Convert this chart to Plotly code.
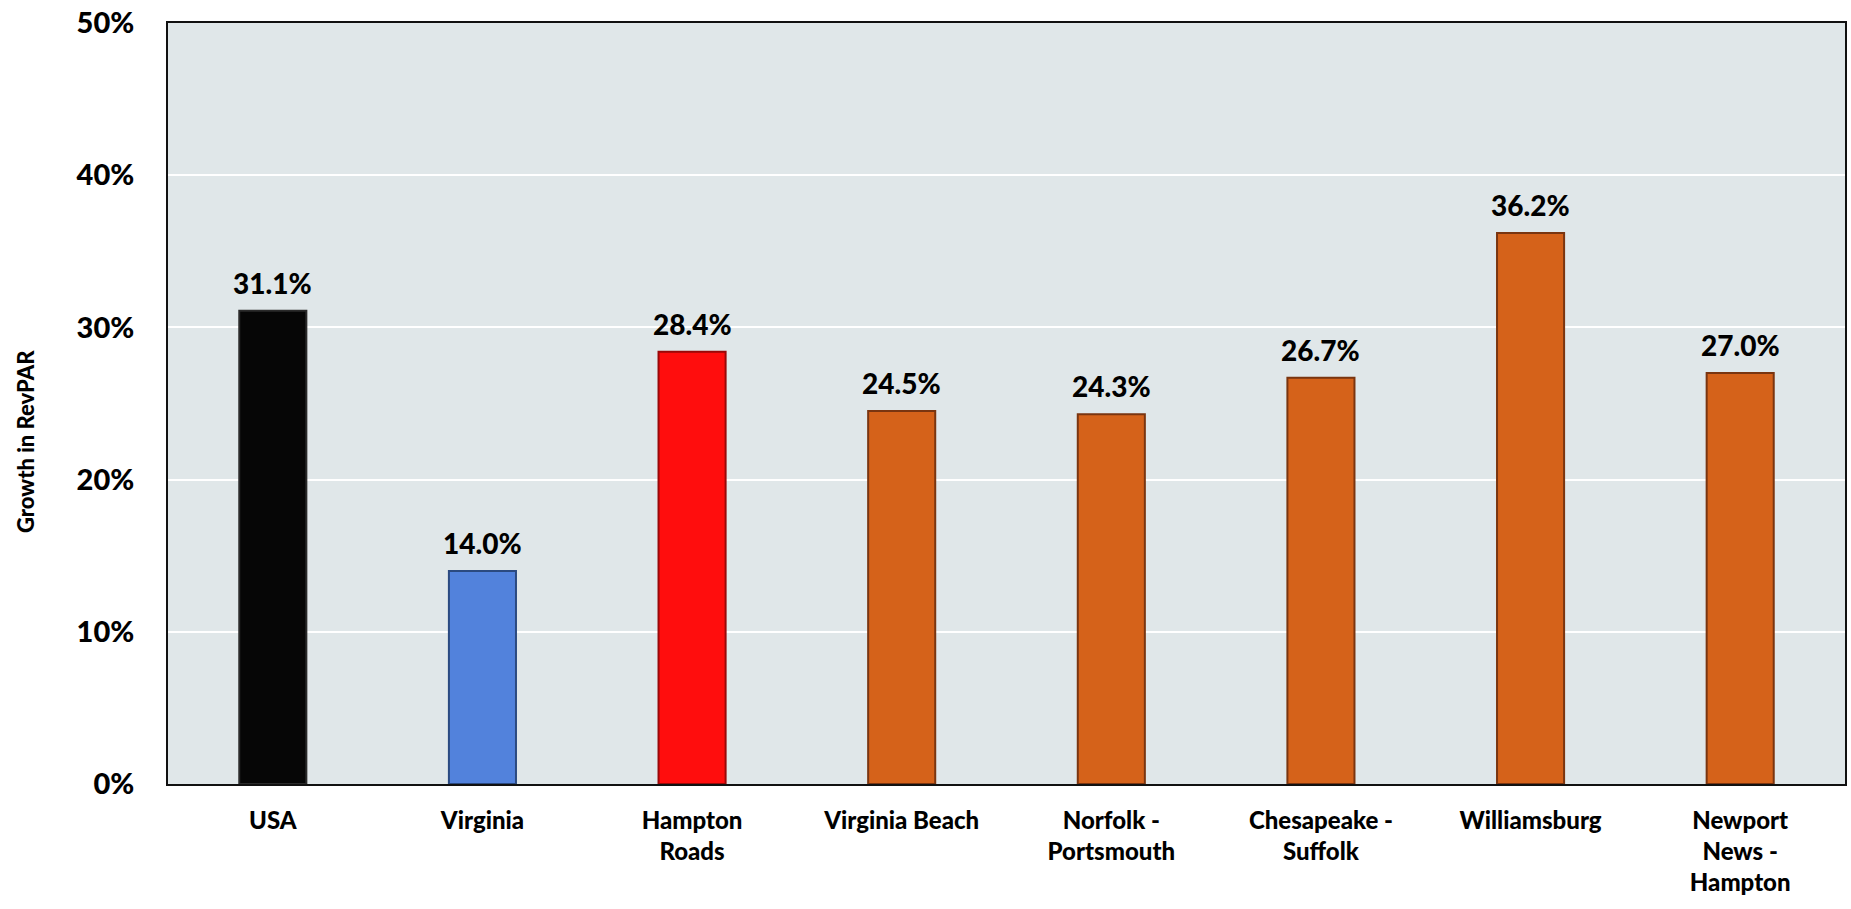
import plotly.graph_objects as go

# Growth in RevPAR by market
markets = ["USA", "Virginia", "Hampton<br>Roads", "Virginia Beach", "Norfolk -<br>Portsmouth",
           "Chesapeake -<br>Suffolk", "Williamsburg", "Newport<br>News -<br>Hampton"]
growth_pct = [31.1, 14.0, 28.4, 24.5, 24.3, 26.7, 36.2, 27.0]
bar_colors = ["#060606", "#5282DC", "#FF0D0D", "#D5621A", "#D5621A", "#D5621A", "#D5621A", "#D5621A"]
edge_colors = ["#2a2a2a", "#2B4A80", "#9A0808", "#7A3510", "#7A3510", "#7A3510", "#7A3510", "#7A3510"]
y_ticks = [0, 10, 20, 30, 40, 50]

FONT = "Lato"

fig = go.Figure()
fig.add_trace(go.Bar(
    x=markets,
    y=growth_pct,
    width=0.32,
    marker=dict(color=bar_colors, line=dict(color=edge_colors, width=2)),
    hoverinfo="skip",
))

for m, v in zip(markets, growth_pct):
    fig.add_annotation(
        x=m, y=v, text=f"{v:.1f}%", showarrow=False,
        yanchor="bottom", yshift=9,
        font=dict(family=FONT, size=28, color="#000000", weight=900),
    )

fig.add_annotation(
    xref="paper", yref="paper", x=-0.085, y=0.45, text="Growth in RevPAR",
    textangle=-90, showarrow=False, xanchor="center", yanchor="middle",
    font=dict(family=FONT, size=22, color="#000000", weight=900),
)

fig.update_layout(
    width=1851, height=909,
    margin=dict(l=168, r=4, t=19, b=125),
    paper_bgcolor="#FFFFFF",
    plot_bgcolor="#E0E7E9",
    showlegend=False,
    xaxis=dict(
        tickfont=dict(family=FONT, size=24, color="#000000", weight=900),
        showline=True, linecolor="#111111", linewidth=2, mirror=True,
        ticks="", ticklabelstandoff=14,
        tickmode="array", tickvals=markets, ticktext=markets,
    ),
    yaxis=dict(
        range=[0, 50],
        tickvals=y_ticks,
        ticktext=[f"{t}%" for t in y_ticks],
        tickfont=dict(family=FONT, size=29, color="#000000", weight=900),
        showgrid=True, gridcolor="#FFFFFF", gridwidth=2,
        showline=True, linecolor="#111111", linewidth=2, mirror=True,
        zeroline=False, ticks="", ticklabelstandoff=26,
    ),
)

fig.write_html("out.html")
